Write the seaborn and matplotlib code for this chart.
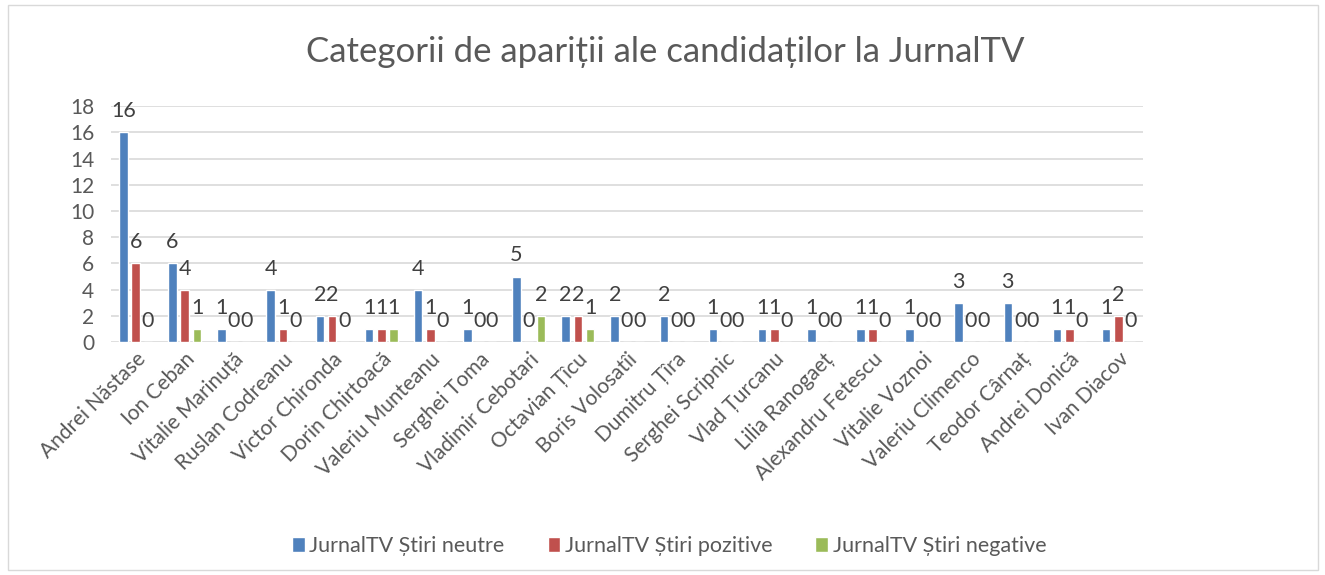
import pandas as pd
import matplotlib
matplotlib.use('Agg')
import matplotlib.pyplot as plt
import seaborn as sns

# date
candidati = ['Andrei Năstase', 'Ion Ceban', 'Vitalie Marinuță', 'Ruslan Codreanu',
             'Victor Chironda', 'Dorin Chirtoacă', 'Valeriu Munteanu', 'Serghei Toma',
             'Vladimir Cebotari', 'Octavian Țîcu', 'Boris Volosatîi', 'Dumitru Țîra',
             'Serghei Scripnic', 'Vlad Țurcanu', 'Lilia Ranogaeț', 'Alexandru Fetescu',
             'Vitalie Voznoi', 'Valeriu Climenco', 'Teodor Cârnaț', 'Andrei Donică',
             'Ivan Diacov']
neutre = [16, 6, 1, 4, 2, 1, 4, 1, 5, 2, 2, 2, 1, 1, 1, 1, 1, 3, 3, 1, 1]
pozitive = [6, 4, 0, 1, 2, 1, 1, 0, 0, 2, 0, 0, 0, 1, 0, 1, 0, 0, 0, 1, 2]
negative = [0, 1, 0, 0, 0, 1, 0, 0, 2, 1, 0, 0, 0, 0, 0, 0, 0, 0, 0, 0, 0]
serii = ['JurnalTV Știri neutre', 'JurnalTV Știri pozitive', 'JurnalTV Știri negative']
culori = ['#4F81BD', '#C0504D', '#9BBB59']

df = pd.DataFrame({'Candidat': candidati * 3,
                   'Serie': [serii[0]] * 21 + [serii[1]] * 21 + [serii[2]] * 21,
                   'Valoare': neutre + pozitive + negative})

sns.set_style('white')
plt.rcParams['font.family'] = ['Lato', 'DejaVu Sans']
gri = '#595959'

fig = plt.figure(figsize=(13.25, 5.75), dpi=100)
ax = fig.add_axes([0.0838, 0.405, 0.7788, 0.4105])

sns.barplot(data=df, x='Candidat', y='Valoare', hue='Serie', palette=culori,
            width=0.75, gap=0.3, ax=ax, saturation=1)

for cont in ax.containers:
    ax.bar_label(cont, fmt='%d', padding=8, fontsize=15.5, color='#404040')

ax.set_ylim(0, 18)
ax.set_xlim(-0.5, len(candidati) - 0.5)
ax.set_yticks(range(0, 19, 2))
ax.grid(axis='y', color='#D9D9D9', linewidth=1.2)
ax.set_axisbelow(True)
for s in ax.spines.values():
    s.set_visible(False)
ax.tick_params(axis='both', length=0, labelsize=15, colors=gri)
ax.tick_params(axis='y', pad=12)
ax.tick_params(axis='x', pad=5)
plt.setp(ax.get_xticklabels(), rotation=45, ha='right', rotation_mode='anchor')
ax.set_xlabel('')
ax.set_ylabel('')

fig.text(0.502, 0.91, 'Categorii de apariții ale candidaților la JurnalTV',
         ha='center', va='center', fontsize=25, color=gri)

h, l = ax.get_legend_handles_labels()
ax.legend_.remove()
fig.legend(h, l, loc='center', bbox_to_anchor=(0.505, 0.05), ncol=3, frameon=False,
           fontsize=15.5, labelcolor=gri, handlelength=0.6, handleheight=0.7,
           handletextpad=0.2, columnspacing=2.0)

# chenar
fig.patches.append(plt.Rectangle((8 / 1325, 5 / 575), 1310 / 1325, 565 / 575,
                                 transform=fig.transFigure, fill=False,
                                 edgecolor='#D9D9D9', linewidth=1))

fig.savefig('out.png', dpi=100)
